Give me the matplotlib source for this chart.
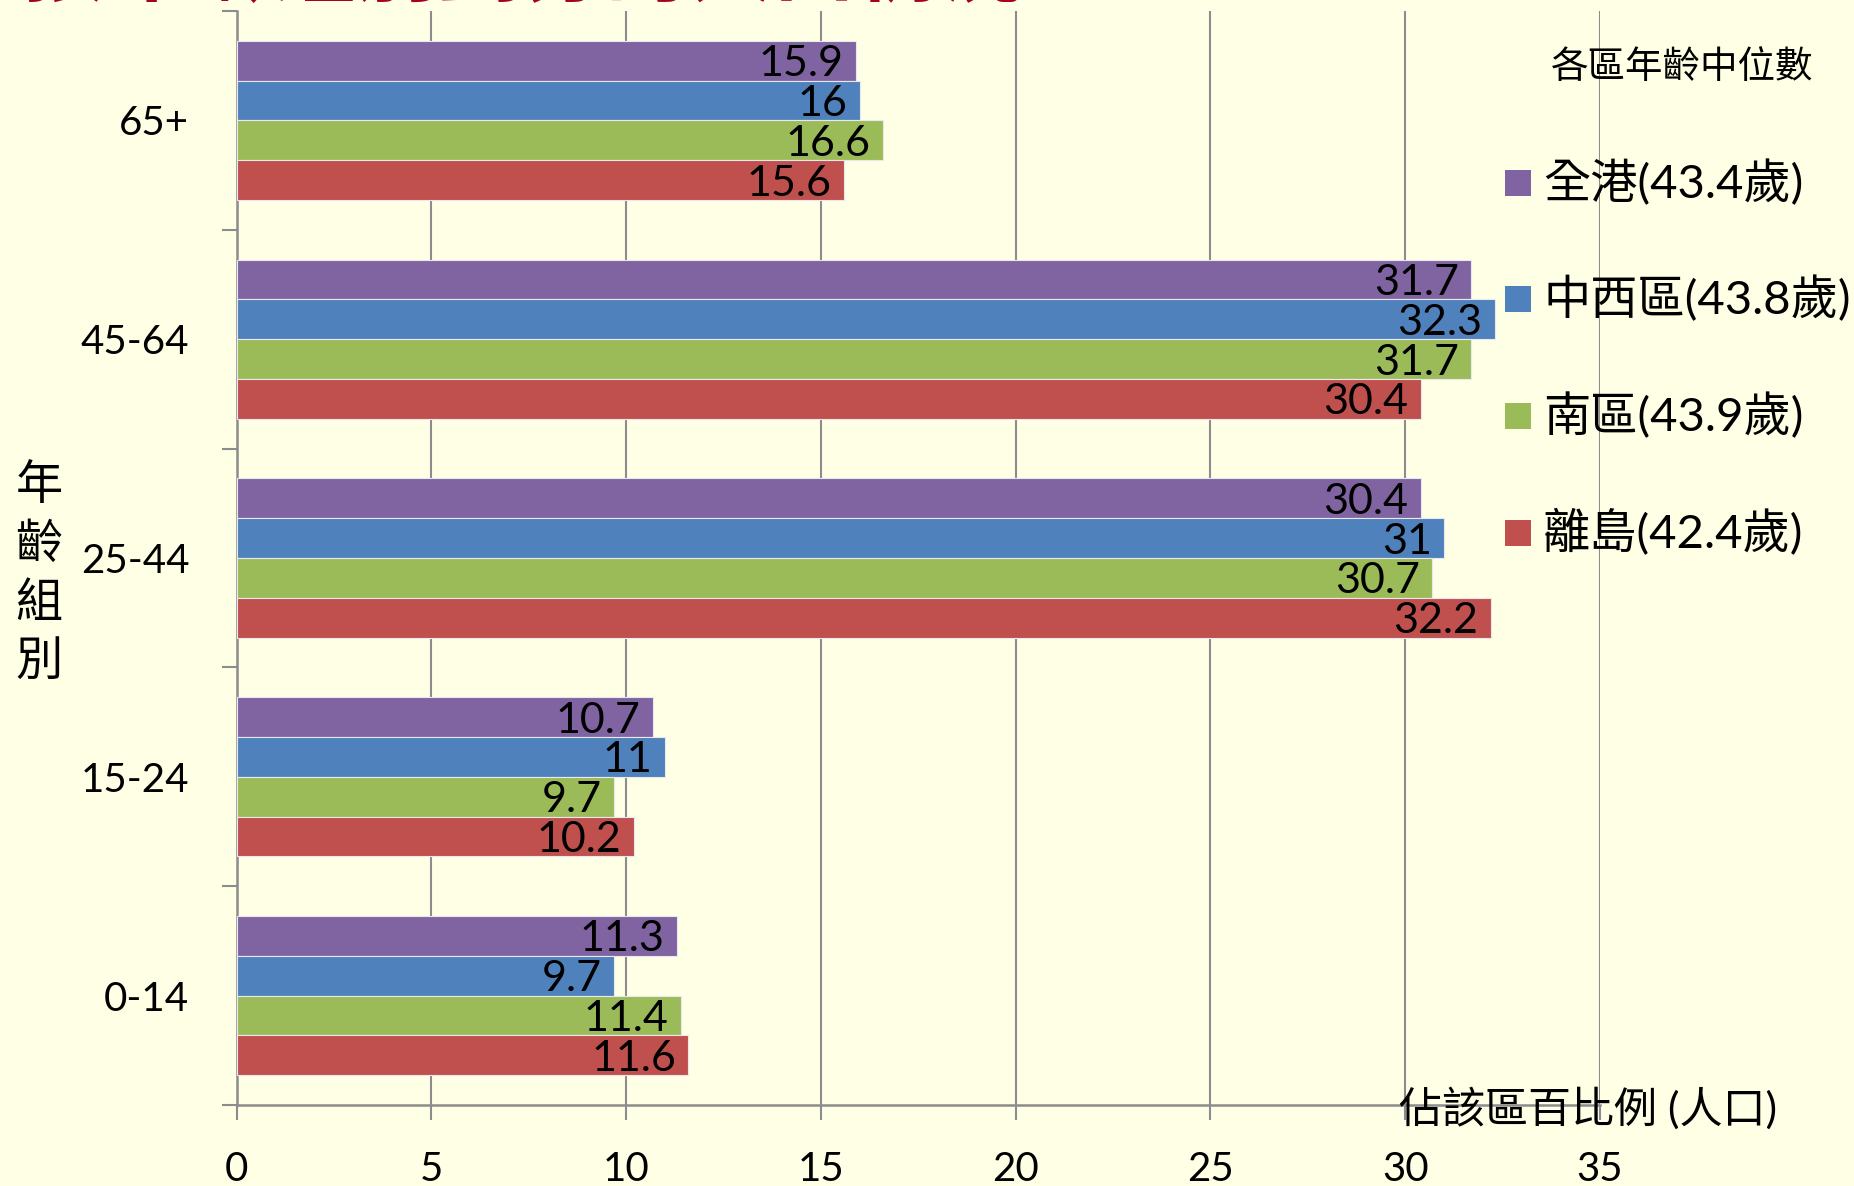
import numpy as np
import matplotlib
matplotlib.use('Agg')
import matplotlib.pyplot as plt
from matplotlib.patches import Rectangle

# data
age_groups = ['0-14', '15-24', '25-44', '45-64', '65+']
series_names = ['全港', '中西區', '南區', '離島']
medians = ['43.4', '43.8', '43.9', '42.4']
hk_all = [11.3, 10.7, 30.4, 31.7, 15.9]
central_western = [9.7, 11, 31, 32.3, 16]
southern = [11.4, 9.7, 30.7, 31.7, 16.6]
islands = [11.6, 10.2, 32.2, 30.4, 15.6]
x_ticks = [0, 5, 10, 15, 20, 25, 30, 35]

colors = ['#8064A2', '#4F81BD', '#9BBB59', '#C0504D']
bg = '#FFFFE6'
cjk = ['Lato', 'Noto Sans CJK TC', 'DejaVu Sans']
plt.rcParams['font.family'] = cjk

fig = plt.figure(figsize=(18.54, 11.86), dpi=100, facecolor=bg)
W, H = 1854, 1186
ax = fig.add_axes([236.5 / W, 1 - 1105 / H, (1600 - 236.5) / W, (1105 - 11) / H])
ax.set_facecolor(bg)

y = np.arange(len(age_groups))
h = 1 / 5.5
offsets = [1.5 * h, 0.5 * h, -0.5 * h, -1.5 * h]
all_series = [hk_all, central_western, southern, islands]

for vals, off, col in zip(all_series, offsets, colors):
    ax.barh(y + off, vals, height=h, color=col, edgecolor='#E8E8EE', linewidth=0.8, zorder=3)
    for yy, v in zip(y, vals):
        ax.annotate('{:g}'.format(v), xy=(v, yy + off), xytext=(-9, -2.5),
                    textcoords='offset points', ha='right', va='center',
                    fontsize=31, color='black', zorder=4)

ax.set_xlim(0, 35)
ax.set_ylim(-0.5, 4.5)
ax.set_xticks(x_ticks)
ax.set_xticklabels([str(t) for t in x_ticks], fontsize=29)
ax.xaxis.grid(True, color='#8C8C8C', linewidth=1.5, zorder=0)
ax.tick_params(axis='x', length=11, width=1.5, color='#8C8C8C', pad=22)

ax.set_yticks(y)
ax.set_yticklabels(age_groups, fontsize=29)
ax.set_yticks(np.arange(-0.5, 4.6, 1), minor=True)
ax.tick_params(axis='y', which='major', length=0, pad=34)
ax.tick_params(axis='y', which='minor', length=11, width=1.5, color='#8C8C8C')

for s in ['top', 'right']:
    ax.spines[s].set_visible(False)
for s in ['left', 'bottom']:
    ax.spines[s].set_color('#8C8C8C')
    ax.spines[s].set_linewidth(1.8)

# axis titles
fig.text(39 / W, 1 - 573 / H, '\n'.join('年齡組別'), fontsize=34, ha='center', va='center',
         linespacing=1.45, family=cjk)
fig.text(1777 / W, 1 - 1108 / H, '佔該區百比例 (人口)', fontsize=31, ha='right', va='center',
         family=cjk)

# legend
fig.text(1682 / W, 1 - 67 / H, '各區年齡中位數', fontsize=27, ha='center', va='center', family=cjk)
leg_y = [183, 299, 416, 533]
for name, med, col, ly in zip(series_names, medians, colors, leg_y):
    fig.patches.append(Rectangle((1505 / W, 1 - (ly + 13) / H), 26 / W, 26 / H,
                                 transform=fig.transFigure, facecolor=col, edgecolor='none'))
    fig.text(1543 / W, 1 - ly / H, name + '(' + med + '歲)', fontsize=34, ha='left',
             va='center', family=cjk)

# clipped title at the top
fig.text(22 / W, 1 - 9 / H, '按年齡組別劃分的人口情況', fontsize=60, fontweight='bold',
         color='#A50021', ha='left', va='bottom', family=cjk)

fig.savefig('out.png', dpi=100, facecolor=bg)
